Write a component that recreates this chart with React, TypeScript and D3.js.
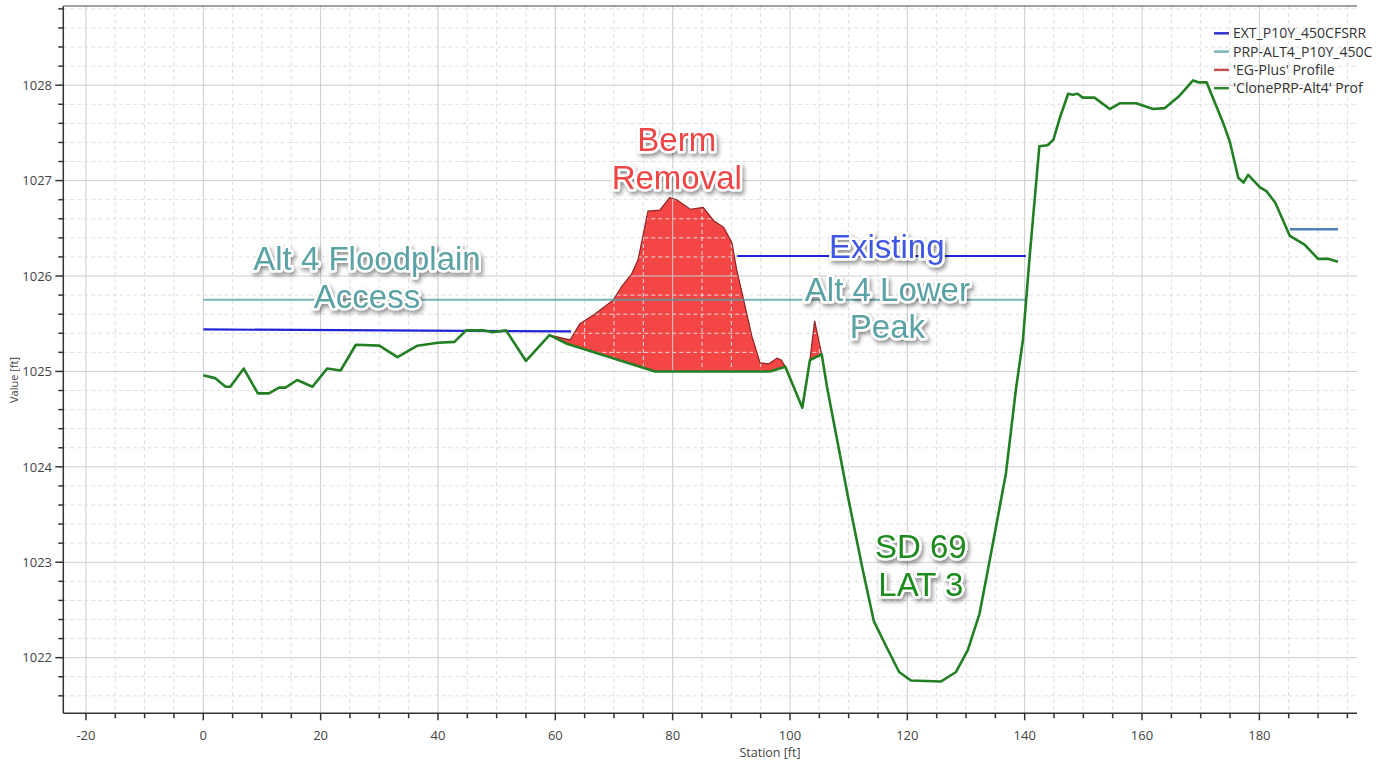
import React from 'react';
import * as d3 from 'd3';

// ---- Data (station [ft], elevation [ft]) ----
const cloneProfile: [number, number][] = [
  [0, 1024.96], [2, 1024.93], [3.8, 1024.84], [4.6, 1024.84], [6.9, 1025.03], [9.3, 1024.77],
  [11.2, 1024.77], [12.9, 1024.83], [14, 1024.83], [16, 1024.91], [18.6, 1024.84], [21.1, 1025.03],
  [23.4, 1025.01], [26, 1025.28], [30, 1025.27], [33.1, 1025.15], [36.5, 1025.27], [40, 1025.3],
  [42.8, 1025.31], [44.8, 1025.43], [47.9, 1025.43], [49.3, 1025.41], [51.6, 1025.43], [55, 1025.11],
  [59, 1025.38], [62, 1025.29], [77, 1025.0], [96.6, 1025.0], [99.2, 1025.05], [102.1, 1024.62],
  [103.4, 1025.12], [105.4, 1025.18], [106.3, 1024.84], [107.7, 1024.39], [110, 1023.65],
  [112.3, 1022.95], [114.3, 1022.38], [116.3, 1022.13], [118.6, 1021.85], [120.6, 1021.76],
  [125.7, 1021.75], [128.3, 1021.85], [130.3, 1022.08], [132.3, 1022.46], [134.5, 1023.17],
  [136.8, 1023.93], [138.5, 1024.81], [139.7, 1025.33], [140.8, 1026.17], [142.5, 1027.36],
  [143.9, 1027.37], [144.9, 1027.43], [145.9, 1027.64], [147.4, 1027.91], [148.2, 1027.9],
  [149, 1027.91], [149.9, 1027.87], [151.9, 1027.87], [154.5, 1027.75], [156.2, 1027.81],
  [159, 1027.81], [161.9, 1027.75], [163.9, 1027.76], [166.4, 1027.89], [168.7, 1028.05],
  [169.6, 1028.03], [171, 1028.03], [173.8, 1027.61], [175, 1027.4], [176.4, 1027.03],
  [177.3, 1026.98], [178.1, 1027.06], [180.1, 1026.93], [181.2, 1026.89], [182.7, 1026.77],
  [185.2, 1026.42], [187.7, 1026.33], [190, 1026.18], [191.7, 1026.18], [193.4, 1026.15],
];

const egPlusBerm: [number, number][] = [
  [59, 1025.38], [62.5, 1025.33], [64.2, 1025.5], [66.7, 1025.6], [69.9, 1025.75], [71.3, 1025.89],
  [73, 1026.02], [74.1, 1026.17], [75.8, 1026.68], [77.8, 1026.69], [79.5, 1026.82], [80.7, 1026.8],
  [83, 1026.7], [85.2, 1026.72], [87, 1026.58], [88.7, 1026.51], [90.1, 1026.35], [90.9, 1026.07],
  [92.1, 1025.75], [93.5, 1025.37], [94.9, 1025.09], [96.4, 1025.08], [97.8, 1025.14], [98.5, 1025.12],
  [99.2, 1025.05],
];

const egPlusSpike: [number, number][] = [
  [103.4, 1025.12], [104.2, 1025.53], [105.4, 1025.18],
];

const extWseSegments: [number, number][][] = [
  [[0, 1025.44], [62.7, 1025.42]],
  [[91, 1026.21], [140.2, 1026.21]],
  [[185.2, 1026.49], [193.4, 1026.49]],
];

const prpWseSegments: [number, number][][] = [
  [[0, 1025.75], [140.2, 1025.75]],
  [[185.2, 1026.49], [193.4, 1026.49]],
];

const xMajorTicks = [-20, 0, 20, 40, 60, 80, 100, 120, 140, 160, 180];
const yMajorTicks = [1022, 1023, 1024, 1025, 1026, 1027, 1028];

const legendLabels = [
  'EXT_P10Y_450CFSRR',
  'PRP-ALT4_P10Y_450C',
  "'EG-Plus' Profile",
  "'ClonePRP-Alt4' Prof",
];

const annotationTexts = [
  ['Alt 4 Floodplain', 'Access'],
  ['Berm', 'Removal'],
  ['Existing'],
  ['Alt 4 Lower', 'Peak'],
  ['SD 69', 'LAT 3'],
];

// ---- Layout / style ----
const W = 1377;
const H = 764;
const M = { left: 63.3, right: 1357, top: 6, bottom: 713.3 };
const xDomain: [number, number] = [-23.86, 196.64];
const yDomain: [number, number] = [1021.417, 1028.83];

const C = {
  blue: '#2323d8',
  teal: '#4f9fa3',
  redFill: '#f54646',
  redLine: '#8e2222',
  green: '#237f23',
};

const legendColors = ['#3434cc', '#7bb6bb', '#c25050', '#2e8a2e'];

const annotationStyle = [
  { station: 27.9, elev: 1026.06, color: '#5aa2a4' },
  { station: 80.7, elev: 1027.31, color: '#f04444' },
  { station: 116.5, elev: 1026.19, color: '#3f57e4' },
  { station: 116.6, elev: 1025.74, color: '#5aa2a4' },
  { station: 122.3, elev: 1023.04, color: '#1d8a1d' },
];

export default function App() {
  const x = d3.scaleLinear().domain(xDomain).range([M.left, M.right]);
  const y = d3.scaleLinear().domain(yDomain).range([M.bottom, M.top]);

  const xMinor = d3.range(-20, 196, 5).filter((v) => !xMajorTicks.includes(v));
  const yMinor = d3
    .range(1021.6, 1028.81, 0.2)
    .map((v) => Math.round(v * 10) / 10)
    .filter((v) => !yMajorTicks.includes(v));

  const line = d3
    .line<[number, number]>()
    .x((d) => x(d[0]))
    .y((d) => y(d[1]));

  const fillPoly = (top: [number, number][]) => {
    const s0 = top[0][0];
    const s1 = top[top.length - 1][0];
    const bottom = cloneProfile.filter((d) => d[0] >= s0 && d[0] <= s1).slice().reverse();
    return line([...top, ...bottom]) + 'Z';
  };

  const font = "'Open Sans', 'Noto Sans', sans-serif";
  const annFont = "'Liberation Sans', Arial, sans-serif";

  return (
    <svg
      width={W}
      height={H}
      style={{ position: 'absolute', left: 0, top: 0, background: '#fff' }}
    >
      <defs>
        <clipPath id="plotClip">
          <rect x={M.left} y={M.top} width={M.right - M.left} height={M.bottom - M.top} />
        </clipPath>
        <filter id="shadow" x="-20%" y="-30%" width="140%" height="170%">
          <feDropShadow dx="2" dy="3" stdDeviation="2" floodColor="#000" floodOpacity="0.42" />
        </filter>
      </defs>
      <rect width={W} height={H} fill="#fff" />

      {/* red fill beneath grid */}
      <g clipPath="url(#plotClip)">
        <path d={fillPoly(egPlusBerm)} fill={C.redFill} />
        <path d={fillPoly(egPlusSpike)} fill={C.redFill} />
      </g>

      {/* grid */}
      <g>
        {xMinor.map((v) => (
          <line key={'xm' + v} x1={x(v)} x2={x(v)} y1={M.top} y2={M.bottom}
            stroke="#dedede" strokeWidth={1} strokeDasharray="4,3" />
        ))}
        {yMinor.map((v) => (
          <line key={'ym' + v} x1={M.left} x2={M.right} y1={y(v)} y2={y(v)}
            stroke="#dedede" strokeWidth={1} strokeDasharray="4,3" />
        ))}
        {xMajorTicks.map((v) => (
          <line key={'xM' + v} x1={x(v)} x2={x(v)} y1={M.top} y2={M.bottom}
            stroke="#cdcdcd" strokeWidth={1} />
        ))}
        {yMajorTicks.map((v) => (
          <line key={'yM' + v} x1={M.left} x2={M.right} y1={y(v)} y2={y(v)}
            stroke="#cdcdcd" strokeWidth={1} />
        ))}
      </g>

      {/* series */}
      <g clipPath="url(#plotClip)" fill="none">
        <path d={line(egPlusBerm) || ''} stroke={C.redLine} strokeWidth={1.2} />
        <path d={line(egPlusSpike) || ''} stroke={C.redLine} strokeWidth={1.2} />
        {extWseSegments.map((seg, i) => (
          <path key={'ext' + i} d={line(seg) || ''} stroke={C.blue} strokeWidth={2.2} />
        ))}
        {prpWseSegments.map((seg, i) => (
          <path key={'prp' + i} d={line(seg) || ''} stroke={C.teal} strokeWidth={2} strokeOpacity={0.78} />
        ))}
        <path d={line(cloneProfile) || ''} stroke={C.green} strokeWidth={2.6} strokeLinejoin="round" />
      </g>

      {/* axes */}
      <g stroke="#333" strokeWidth={1.5}>
        <line x1={M.left} x2={M.left} y1={M.top} y2={M.bottom} />
        <line x1={M.left} x2={M.right} y1={M.bottom} y2={M.bottom} />
        <line x1={M.left} x2={M.right} y1={M.top} y2={M.top} stroke="#444" strokeWidth={1.2} />
        {xMajorTicks.map((v) => (
          <line key={'xt' + v} x1={x(v)} x2={x(v)} y1={M.bottom} y2={M.bottom + 7} />
        ))}
        {xMinor.map((v) => (
          <line key={'xmt' + v} x1={x(v)} x2={x(v)} y1={M.bottom} y2={M.bottom + 5} />
        ))}
        {yMajorTicks.map((v) => (
          <line key={'yt' + v} x1={M.left - 8} x2={M.left} y1={y(v)} y2={y(v)} />
        ))}
        {yMinor.map((v) => (
          <line key={'ymt' + v} x1={M.left - 5} x2={M.left} y1={y(v)} y2={y(v)} />
        ))}
      </g>
      <g fontFamily={font} fontSize={13} fill="#444">
        {xMajorTicks.map((v) => (
          <text key={'xl' + v} x={x(v)} y={740} textAnchor="middle">{v}</text>
        ))}
        {yMajorTicks.map((v) => (
          <text key={'yl' + v} x={52} y={y(v)} dy="0.36em" textAnchor="end">{v}</text>
        ))}
        <text x={770} y={757} textAnchor="middle" fontSize={12.5}>Station [ft]</text>
        <text transform={`translate(18,${380}) rotate(-90)`} textAnchor="middle" fontSize={11}>Value [ft]</text>
      </g>

      {/* legend */}
      <g fontFamily={font} fontSize={14} fill="#333">
        {legendLabels.map((lbl, i) => (
          <g key={lbl} transform={`translate(1214,${33.3 + i * 18.3})`}>
            <line x1={0} x2={15} y1={0} y2={0} stroke={legendColors[i]} strokeWidth={2.5} />
            <text x={19} y={0} dy="0.35em">{lbl}</text>
          </g>
        ))}
      </g>

      {/* annotations */}
      <g fontFamily={annFont} fontSize={33} textAnchor="middle" filter="url(#shadow)">
        {annotationTexts.map((lines, i) => {
          const st = annotationStyle[i];
          return (
            <text key={i} x={x(st.station)} y={y(st.elev)} fill={st.color}
              stroke="#fff" strokeWidth={5} strokeLinejoin="round" style={{ paintOrder: 'stroke' }}>
              {lines.map((t, j) => (
                <tspan key={j} x={x(st.station)} dy={j === 0 ? 0 : 37.5}>{t}</tspan>
              ))}
            </text>
          );
        })}
      </g>
    </svg>
  );
}
